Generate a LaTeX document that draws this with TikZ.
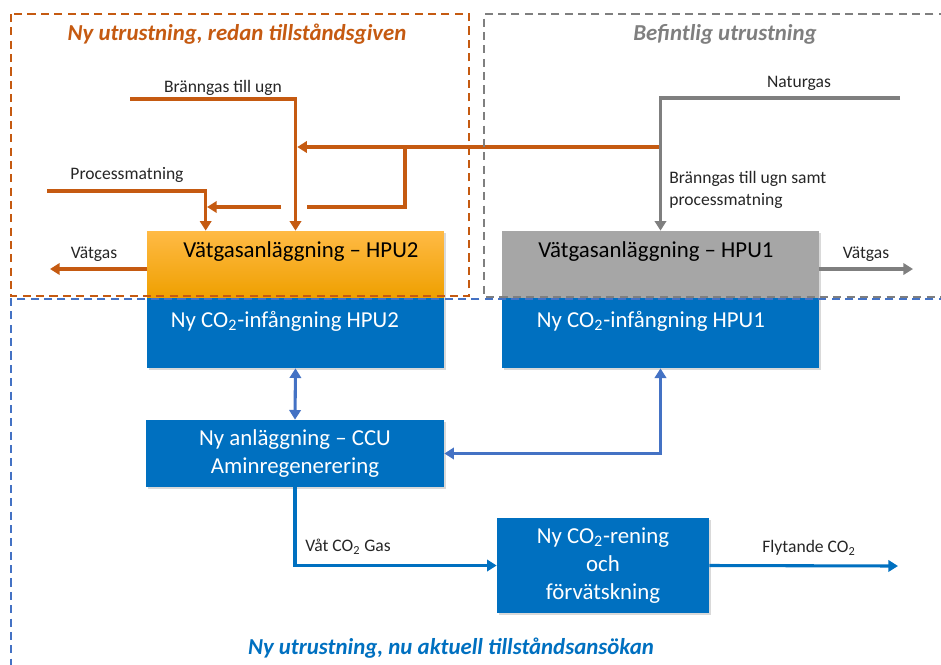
\documentclass[tikz,border=0pt]{standalone}
\usepackage{fontspec}
\setmainfont{Carlito}
\usepackage{tikz}
\usetikzlibrary{arrows.meta, positioning, calc, shadows}
\definecolor{permitorange}{HTML}{C55A11}
\definecolor{hpuorangetop}{HTML}{FFBA45}
\definecolor{hpuorangebot}{HTML}{EFA000}
\definecolor{existgray}{HTML}{7F7F7F}
\definecolor{hpugray}{HTML}{A6A6A6}
\definecolor{ccsblue}{HTML}{0070C0}
\definecolor{linkblue}{HTML}{4472C4}
\definecolor{labelgray}{HTML}{262626}

\tikzset{
  >={Triangle[length=5.5pt,width=6.5pt]},
  unitbox/.style={rectangle, inner sep=0pt,
    drop shadow={shadow xshift=1.2pt, shadow yshift=-1.2pt, opacity=0.3}},
  boxlabel/.style={inner sep=0pt, font=\fontsize{13}{16}\selectfont, align=center},
  flowlabel/.style={inner sep=0pt, text=labelgray, font=\fontsize{10}{12.5}\selectfont},
  frametitle/.style={inner sep=0pt, font=\fontsize{13}{16}\selectfont\bfseries\itshape},
  feedline/.style={permitorange, line width=1.85pt},
  existline/.style={existgray, line width=1.85pt},
  linkline/.style={linkblue, line width=1.75pt},
  co2line/.style={ccsblue, line width=1.75pt},
  frame/.style={line width=1.45pt, dash pattern=on 4.6pt off 3pt}
}

\begin{document}
\begin{tikzpicture}[x=0.02cm, y=-0.02cm]
  \useasboundingbox (0,0) rectangle (941,664);
  \clip (0,0) rectangle (941,664);

  % Hydrogen units with capture below
  \node[unitbox, top color=hpuorangetop, bottom color=hpuorangebot,
        minimum width=5.94cm, minimum height=1.34cm] (hpu2) at (295.5,264.5) {};
  \node[unitbox, fill=ccsblue, minimum width=5.94cm, minimum height=1.4cm] (cap2) at (295.5,333) {};
  \node[unitbox, fill=hpugray, minimum width=6.34cm, minimum height=1.34cm] (hpu1) at (660.5,264.5) {};
  \node[unitbox, fill=ccsblue, minimum width=6.34cm, minimum height=1.4cm] (cap1) at (660.5,333) {};
  \node[unitbox, fill=ccsblue, minimum width=5.96cm, minimum height=1.34cm] (ccu) at (295,453.5) {};
  \node[unitbox, fill=ccsblue, minimum width=4.24cm, minimum height=1.9cm] (rening) at (603,565.5) {};

  \node[boxlabel, text=black] (hpu2txt) at (301,252) {Vätgasanläggning – HPU2};
  \node[boxlabel, text=white] (cap2txt) at (285,321) {Ny CO\textsubscript{2}-infångning HPU2};
  \node[boxlabel, text=black] (hpu1txt) at (656,252) {Vätgasanläggning – HPU1};
  \node[boxlabel, text=white] (cap1txt) at (651,321) {Ny CO\textsubscript{2}-infångning HPU1};
  \node[boxlabel, text=white] (ccutxt) at (ccu) {Ny anläggning – CCU\\Aminregenerering};
  \node[boxlabel, text=white] (reningtxt) at (rening) {Ny CO\textsubscript{2}-rening\\och\\förvätskning};

  % Feed to HPU2
  \coordinate (brIn) at (130,99);
  \coordinate (pmIn) at (47,191);
  \coordinate (pmDn) at ([xshift=1.18cm]hpu2.north west);
  \draw[feedline, ->] (brIn) -| (hpu2.north);
  \draw[feedline, ->] (pmIn) -| (pmDn);

  % Branch taken from the natural gas line
  \coordinate (tap) at (hpu1.north |- 0,147);
  \coordinate (split) at (405,147);
  \coordinate (gapR) at (307,207);
  \coordinate (gapL) at (281,207);
  \draw[feedline, ->, shorten >=1pt] (tap) -- (tap -| hpu2.north);
  \draw[feedline] (split) |- (gapR);
  \draw[feedline, ->, shorten >=0.8pt] (gapL) -- (gapL -| pmDn);

  % Natural gas to HPU1
  \coordinate (ngIn) at (900,98);
  \draw[existline, ->] (ngIn) -| (hpu1.north);

  % Hydrogen out
  \coordinate (h2Out) at (50,269);
  \coordinate (h1Out) at (913,269);
  \draw[feedline, ->] (hpu2.west |- h2Out) -- (h2Out);
  \draw[existline, ->] (hpu1.east |- h1Out) -- (h1Out);

  % Amine and CO2 flows
  \coordinate (flyOut) at (898,566);
  \draw[linkline, <->] (cap2.south) -- (ccu.north);
  \draw[linkline, <->] (ccu.east) -| (cap1.south);
  \draw[co2line, ->] (ccu.south) |- (rening.west);
  \draw[co2line, ->] (rening.east) -- (flyOut);

  % Flow labels
  \node[flowlabel] (brLbl) at (223,88) {Bränngas till ugn};
  \node[flowlabel] (pmLbl) at (127,175) {Processmatning};
  \node[flowlabel] (ngLbl) at (799,83) {Naturgas};
  \node[flowlabel, anchor=west, align=left] (mixLbl) at (669,190) {Bränngas till ugn samt\\processmatning};
  \node[flowlabel] (h2Lbl) at (94,254) {Vätgas};
  \node[flowlabel] (h1Lbl) at (866,254) {Vätgas};
  \node[flowlabel, anchor=west] (vatLbl) at (305,547) {Våt CO\textsubscript{2} Gas};
  \node[flowlabel] (flyLbl) at (809,548) {Flytande CO\textsubscript{2}};

  % Scope frames
  \draw[frame, permitorange] (11,14) rectangle (469,296);
  \draw[frame, existgray] (960,14) -- (484,14) -- (484,297) -- (960,297);
  \draw[frame, linkblue] (960,299) -- (11,299) -- (11,680);

  \node[frametitle, text=permitorange] (oldTitle) at (237,34) {Ny utrustning,\ redan tillståndsgiven};
  \node[frametitle, text=existgray] (exTitle) at (725,34) {Befintlig utrustning};
  \node[frametitle, text=ccsblue] (newTitle) at (451,648) {Ny utrustning,\ nu aktuell tillståndsansökan};
\end{tikzpicture}
\end{document}
